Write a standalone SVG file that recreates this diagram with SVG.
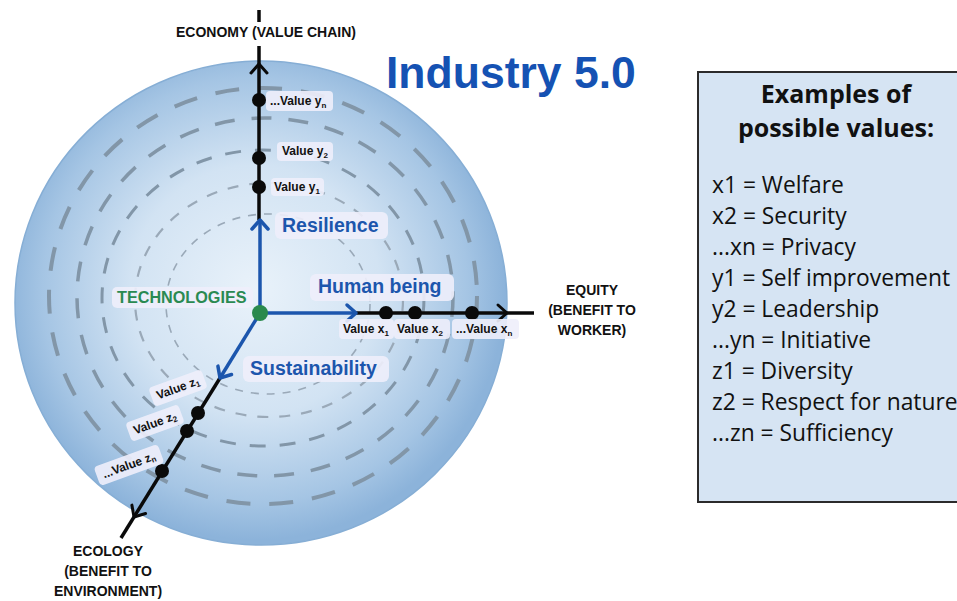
<svg xmlns="http://www.w3.org/2000/svg" xmlns:xlink="http://www.w3.org/1999/xlink" width="957" height="601" viewBox="0 0 957 601">
  <defs>
    <radialGradient id="sphere" cx="255" cy="290" r="250" gradientUnits="userSpaceOnUse">
      <stop offset="0" stop-color="#e9f2fa"/>
      <stop offset="0.5" stop-color="#d2e3f3"/>
      <stop offset="0.85" stop-color="#a5c5e4"/>
      <stop offset="1" stop-color="#8cb3da"/>
    </radialGradient>
    <path id="chev" d="M-9,-8 L0,0 L-9,8" fill="none" stroke-linecap="round" stroke-linejoin="round"/>
    <style>
      .ring { fill: none; stroke: #8296a8; }
      .ring-thin { fill: none; stroke: #9aa9b8; }
      .axis { stroke: #0a0a0a; stroke-width: 3.5; fill: none; }
      .dim { stroke: #1c56ad; stroke-width: 3.5; fill: none; }
      .chev-k { stroke: #0a0a0a; stroke-width: 3; }
      .chev-b { stroke: #1c56ad; stroke-width: 3.5; }
      .dot { fill: #0a0a0a; }
      .tag { fill: #eeeefb; opacity: 0.9; }
      .val { font-family: "Liberation Sans", Arial, sans-serif; font-weight: bold; font-size: 12px; fill: #111; }
      .sub { font-size: 8px; }
      .dimlbl { font-family: "Liberation Sans", Arial, sans-serif; font-weight: bold; font-size: 19.5px; fill: #1c56ad; }
      .axlbl { font-family: "Liberation Sans", Arial, sans-serif; font-weight: bold; font-size: 14px; fill: #111; text-anchor: middle; }
      .list { font-family: "Open Sans", "Noto Sans", sans-serif; font-size: 22.8px; fill: #111; }
      .head { font-family: "Open Sans", "Noto Sans", sans-serif; font-weight: bold; font-size: 25px; fill: #111; text-anchor: middle; }
    </style>
  </defs>

  <rect width="957" height="601" fill="#ffffff"/>

  <!-- sphere with dashed value rings -->
  <g id="sphere-body">
    <ellipse cx="261" cy="303" rx="246" ry="242" fill="url(#sphere)" stroke="#86aed5" stroke-width="1.5"/>
    <ellipse class="ring" cx="263" cy="296" rx="214" ry="208" stroke-width="4" stroke-dasharray="24 19"/>
    <ellipse class="ring" cx="265" cy="297" rx="188" ry="179" stroke-width="3.5" stroke-dasharray="20 17"/>
    <ellipse class="ring" cx="263" cy="298" rx="161" ry="148" stroke-width="3" stroke-dasharray="16 14"/>
    <ellipse class="ring-thin" cx="269" cy="300" rx="134" ry="117" stroke-width="2.2" stroke-dasharray="11 11"/>
    <ellipse class="ring-thin" cx="268" cy="304" rx="102" ry="90" stroke-width="1.6" stroke-dasharray="8 8"/>
  </g>

  <!-- title -->
  <g id="title">
    <text x="386" y="88" font-family="Liberation Sans, Arial, sans-serif" font-weight="bold" font-size="44.5" fill="#1552b3">Industry 5.0</text>
  </g>

  <!-- axes and dimension arrows -->
  <g id="connectors">
    <!-- economy axis (up) -->
    <line class="axis" x1="259" y1="10" x2="259" y2="22"/>
    <line class="axis" x1="259" y1="46" x2="259" y2="220"/>
    <use xlink:href="#chev" class="chev-k" transform="translate(259,64) rotate(-90)"/>
    <!-- equity axis (right) -->
    <line class="axis" x1="356" y1="313" x2="534" y2="313"/>
    <use xlink:href="#chev" class="chev-k" transform="translate(507,313)"/>
    <!-- ecology axis (down-left) -->
    <line class="axis" x1="220" y1="378" x2="121" y2="538"/>
    <use xlink:href="#chev" class="chev-k" transform="translate(134,517) rotate(121.7)"/>
    <!-- dimension arrows from the technology core -->
    <line class="dim" x1="260" y1="313" x2="260" y2="220"/>
    <use xlink:href="#chev" class="chev-b" transform="translate(260,220) rotate(-90)"/>
    <line class="dim" x1="260" y1="313" x2="356" y2="313"/>
    <use xlink:href="#chev" class="chev-b" transform="translate(356,313)"/>
    <line class="dim" x1="260" y1="313" x2="220" y2="378"/>
    <use xlink:href="#chev" class="chev-b" transform="translate(220,378) rotate(121.7)"/>
  </g>

  <!-- axis titles -->
  <g id="axis-economy">
    <text class="axlbl" x="266" y="37" font-size="14.3">ECONOMY (VALUE CHAIN)</text>
  </g>
  <g id="axis-equity">
    <text class="axlbl" x="592" y="295">EQUITY</text>
    <text class="axlbl" x="592" y="315">(BENEFIT TO</text>
    <text class="axlbl" x="592" y="335">WORKER)</text>
  </g>
  <g id="axis-ecology">
    <text class="axlbl" x="108" y="556">ECOLOGY</text>
    <text class="axlbl" x="108" y="576">(BENEFIT TO</text>
    <text class="axlbl" x="108" y="596">ENVIRONMENT)</text>
  </g>

  <!-- core -->
  <g id="technologies">
    <rect class="tag" x="112" y="287" width="141" height="21" rx="5"/>
    <text x="117" y="303" font-family="Liberation Sans, Arial, sans-serif" font-weight="bold" font-size="16.2" fill="#2a8a52">TECHNOLOGIES</text>
    <circle cx="260" cy="313" r="8" fill="#2a8a4c"/>
  </g>

  <!-- dimensions -->
  <g id="resilience">
    <rect class="tag" x="275" y="212" width="113" height="27" rx="6"/>
    <text class="dimlbl" x="282" y="232">Resilience</text>
  </g>
  <g id="human-being">
    <rect class="tag" x="310" y="274" width="144" height="27" rx="6"/>
    <text class="dimlbl" x="318" y="293">Human being</text>
  </g>
  <g id="sustainability">
    <rect class="tag" x="243" y="356" width="146" height="26" rx="6"/>
    <text class="dimlbl" x="250" y="375">Sustainability</text>
  </g>

  <!-- economy values -->
  <g id="value-yn">
    <circle class="dot" cx="259" cy="100" r="7"/>
    <rect class="tag" x="266" y="91" width="67" height="20" rx="4"/>
    <text class="val" x="270" y="105">...Value y<tspan class="sub" dy="3">n</tspan></text>
  </g>
  <g id="value-y2">
    <circle class="dot" cx="259" cy="158" r="7"/>
    <rect class="tag" x="277" y="142" width="56" height="19" rx="4"/>
    <text class="val" x="282" y="155">Value y<tspan class="sub" dy="3">2</tspan></text>
  </g>
  <g id="value-y1">
    <circle class="dot" cx="259" cy="187" r="7"/>
    <rect class="tag" x="271" y="178" width="53" height="18" rx="4"/>
    <text class="val" x="274" y="191">Value y<tspan class="sub" dy="3">1</tspan></text>
  </g>

  <!-- equity values -->
  <g id="value-x1">
    <circle class="dot" cx="386" cy="313" r="7"/>
    <rect class="tag" x="339" y="319" width="55" height="20" rx="4"/>
    <text class="val" x="343" y="333">Value x<tspan class="sub" dy="3">1</tspan></text>
  </g>
  <g id="value-x2">
    <circle class="dot" cx="415" cy="313" r="7"/>
    <rect class="tag" x="394" y="319" width="56" height="20" rx="4"/>
    <text class="val" x="397" y="333">Value x<tspan class="sub" dy="3">2</tspan></text>
  </g>
  <g id="value-xn">
    <circle class="dot" cx="472" cy="313" r="7"/>
    <rect class="tag" x="452" y="319" width="67" height="20" rx="4"/>
    <text class="val" x="456" y="333">...Value x<tspan class="sub" dy="3">n</tspan></text>
  </g>

  <!-- ecology values -->
  <g id="value-z1">
    <circle class="dot" cx="198" cy="413" r="7"/>
    <g transform="rotate(-20 178 388)">
      <rect class="tag" x="150" y="378" width="56" height="20" rx="4"/>
      <text class="val" x="178" y="392" text-anchor="middle">Value z<tspan class="sub" dy="2">1</tspan></text>
    </g>
  </g>
  <g id="value-z2">
    <circle class="dot" cx="187" cy="431" r="7"/>
    <g transform="rotate(-20 155 423)">
      <rect class="tag" x="127" y="413" width="56" height="20" rx="4"/>
      <text class="val" x="155" y="427" text-anchor="middle">Value z<tspan class="sub" dy="2">2</tspan></text>
    </g>
  </g>
  <g id="value-zn">
    <circle class="dot" cx="162" cy="471" r="7"/>
    <g transform="rotate(-20 129 465)">
      <rect class="tag" x="95" y="455" width="68" height="20" rx="4"/>
      <text class="val" x="129" y="469" text-anchor="middle">...Value z<tspan class="sub" dy="2">n</tspan></text>
    </g>
  </g>

  <!-- legend panel -->
  <g id="examples">
    <rect x="698" y="72" width="300" height="430" fill="#d6e4f3" stroke="#2b2b2b" stroke-width="2"/>
    <text class="head" x="836" y="103">Examples of</text>
    <text class="head" x="836" y="137">possible values:</text>
    <text class="list" x="712" y="193">x1 = Welfare</text>
    <text class="list" x="712" y="224">x2 = Security</text>
    <text class="list" x="712" y="255">...xn = Privacy</text>
    <text class="list" x="712" y="286">y1 = Self improvement</text>
    <text class="list" x="712" y="317">y2 = Leadership</text>
    <text class="list" x="712" y="348">...yn = Initiative</text>
    <text class="list" x="712" y="379">z1 = Diversity</text>
    <text class="list" x="712" y="410">z2 = Respect for nature</text>
    <text class="list" x="712" y="441">...zn = Sufficiency</text>
  </g>
</svg>
